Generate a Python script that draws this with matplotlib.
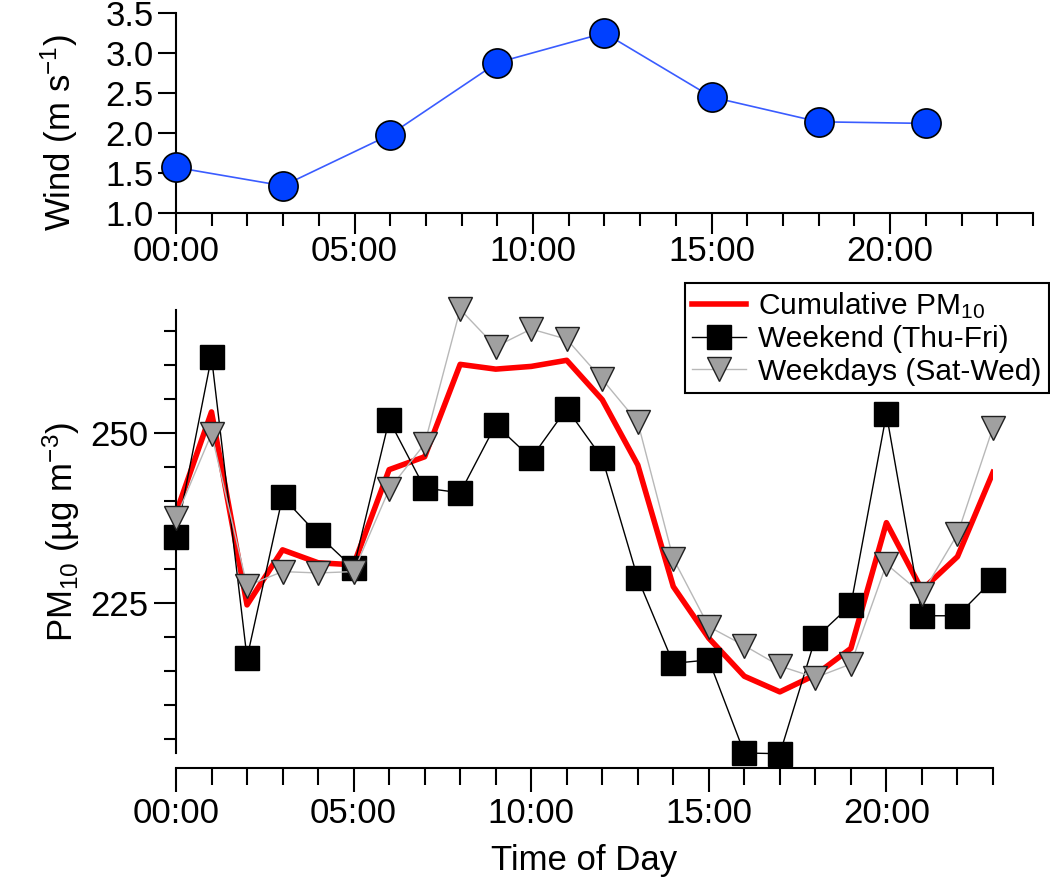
import matplotlib
matplotlib.use('agg')
import matplotlib.pyplot as plt
from matplotlib.ticker import MultipleLocator, FixedLocator

plt.rcParams['font.family'] = ['Liberation Sans', 'DejaVu Sans']
plt.rcParams['mathtext.default'] = 'regular'

# wind speed, every 3 h
wind_hours = [0, 3, 6, 9, 12, 15, 18, 21]
wind_speed = [1.57, 1.34, 1.98, 2.88, 3.25, 2.45, 2.14, 2.12]

# hourly PM10
hours = list(range(24))
pm_total = [238.2, 253.1, 224.7, 232.8, 230.9, 230.6, 244.6, 246.5,
            260.1, 259.4, 259.8, 260.7, 254.9, 245.3, 227.4, 219.8,
            214.2, 211.9, 214.4, 218.3, 236.8, 226.9, 231.8, 244.2]
pm_weekend = [234.7, 261.2, 216.9, 240.6, 235.0, 230.1, 251.9, 241.9,
              241.2, 251.2, 246.3, 253.6, 246.3, 228.6, 216.1, 216.6,
              202.9, 202.8, 219.8, 224.7, 252.8, 223.1, 223.1, 228.4]
pm_weekdays = [237.5, 249.9, 227.5, 229.6, 229.4, 229.6, 241.7, 248.4,
               268.2, 262.7, 265.3, 263.8, 257.9, 251.6, 231.5, 221.5,
               218.7, 215.7, 214.0, 216.0, 230.7, 226.3, 235.1, 250.8]
major_hours = [0, 5, 10, 15, 20]
major_labels = ['00:00', '05:00', '10:00', '15:00', '20:00']

fs = 25
fig = plt.figure(figsize=(10.5, 8.86), dpi=100)

# ---- top: wind
ax1 = fig.add_axes([0.1676, 0.7596, 0.8162, 0.2257])
ax1.plot(wind_hours, wind_speed, '-o', color='#3a5cff', lw=1.2,
         markersize=21, markerfacecolor='#0040ff', markeredgecolor='black',
         markeredgewidth=1.2, clip_on=False, zorder=3)
ax1.set_xlim(0, 24)
ax1.set_ylim(1.0, 3.5)
ax1.xaxis.set_major_locator(FixedLocator(major_hours))
ax1.set_xticklabels(major_labels)
ax1.xaxis.set_minor_locator(MultipleLocator(1))
ax1.yaxis.set_major_locator(MultipleLocator(0.5))
ax1.yaxis.set_major_formatter(matplotlib.ticker.FormatStrFormatter('%.1f'))
ax1.set_ylabel('Wind (m s$^{-1}$)', fontsize=fs)
ax1.yaxis.set_label_coords(-0.112, 0.4)
for s in ['top', 'right']:
    ax1.spines[s].set_visible(False)
for s in ['left', 'bottom']:
    ax1.spines[s].set_linewidth(1.5)
ax1.tick_params(axis='x', which='major', length=15, width=1.5, labelsize=fs, pad=1)
ax1.tick_params(axis='x', which='minor', length=9, width=1.5)
ax1.tick_params(axis='y', which='major', length=13, width=1.5, labelsize=fs, pad=3)

# ---- bottom: PM10
ax2 = fig.add_axes([0.1676, 0.1501, 0.7781, 0.5])
ax2.plot(hours, pm_total, '-', color='#ff0000', lw=4, zorder=2,
         label='Cumulative PM$_{10}$')
ax2.plot(hours, pm_weekend, '-s', color='black', lw=1.0, markersize=17,
         markerfacecolor='black', markeredgecolor='black', zorder=3,
         clip_on=False, label='Weekend (Thu-Fri)')
ax2.plot(hours, pm_weekdays, '-v', color='#b8b8b8', lw=1.0, markersize=17,
         markerfacecolor='#a0a0a0', markeredgecolor='#202020',
         markeredgewidth=1.0, zorder=4, clip_on=False,
         label='Weekdays (Sat-Wed)')
ax2.set_xlim(0, 23)
ax2.set_ylim(202.9, 268.1)
ax2.xaxis.set_major_locator(FixedLocator(major_hours))
ax2.set_xticklabels(major_labels)
ax2.xaxis.set_minor_locator(MultipleLocator(1))
ax2.yaxis.set_major_locator(FixedLocator([225, 250]))
ax2.yaxis.set_minor_locator(MultipleLocator(5))
ax2.set_xlabel('Time of Day', fontsize=fs, labelpad=10)
ax2.set_ylabel('PM$_{10}$ (µg m$^{-3}$)', fontsize=fs)
ax2.yaxis.set_label_coords(-0.115, 0.5)
for s in ['top', 'right']:
    ax2.spines[s].set_visible(False)
for s in ['left', 'bottom']:
    ax2.spines[s].set_linewidth(1.5)
ax2.spines['bottom'].set_position(('outward', 11))
ax2.tick_params(axis='x', which='major', length=17, width=1.5, labelsize=fs, pad=4)
ax2.tick_params(axis='x', which='minor', length=12, width=1.5)
ax2.tick_params(axis='y', which='major', length=16, width=1.5, labelsize=fs, pad=4)
ax2.tick_params(axis='y', which='minor', length=9, width=1.5)

leg = ax2.legend(loc='upper left', bbox_to_anchor=(0.652, 0.681),
                 bbox_transform=fig.transFigure, fontsize=21.5,
                 frameon=True, fancybox=False, edgecolor='black',
                 framealpha=1, handlelength=1.8, handletextpad=0.4,
                 labelspacing=0.15, borderpad=0.25, borderaxespad=0)
leg.get_frame().set_linewidth(1.5)

plt.savefig('out.png', dpi=100)
